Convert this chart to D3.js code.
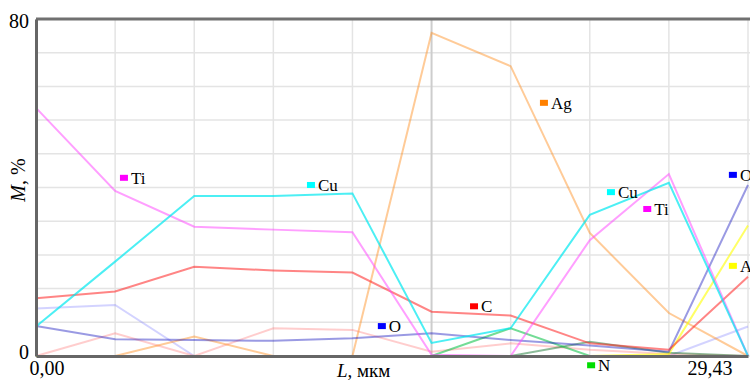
<!DOCTYPE html>
<html>
<head>
<meta charset="utf-8">
<script src="https://cdn.jsdelivr.net/npm/d3@7"></script>
<style>
  body { margin: 0; background: #fff; }
  svg { display: block; font-family: "Liberation Serif", "DejaVu Serif", serif; }
</style>
</head>
<body>
<script>
// точки по длине, мкм
var L = [0, 3.27, 6.54, 9.81, 13.08, 16.35, 19.62, 22.89, 26.16, 29.43];

// концентрации, %
var ti = [58.9, 39.2, 30.7, 30.0, 29.4, 0.3, 0, 27.5, 43.2, 0];
var cu = [7.0, 22.4, 38.0, 38.0, 38.6, 3.1, 6.6, 33.5, 41.1, 0];
var c  = [13.7, 15.3, 21.2, 20.3, 19.8, 10.5, 9.6, 3.0, 1.5, 18.8];
var o  = [7.1, 4.0, 3.8, 3.6, 4.2, 5.4, 3.8, 2.5, 1.0, 40.6];
var ag = [0, 0, 4.6, 0, 0, 76.7, 68.8, 29.2, 10.2, 0];
var n  = [0, 0, 0, 0, 0, 0, 6.6, 0, 0, 0];
var al = [0, 0, 0, 0, 0, 0, 0, 0, 0.5, 31.0];
var si = [11.3, 12.1, 0, 0, 0, 0, 0, 0, 0, 7.0];
var fe = [0, 5.4, 0, 6.6, 6.2, 1.0, 3.0, 1.5, 0.5, 0];
var dk = [0, 0, 0, 0, 0, 0, 0, 3.4, 0.8, 0];

var series = [
  {v: si, col: "#8080ff", op: 0.35},
  {v: fe, col: "#ff7070", op: 0.35},
  {v: dk, col: "#006a20", op: 0.45},
  {v: ag, col: "#ff8c1a", op: 0.45},
  {v: n,  col: "#00c040", op: 0.55},
  {v: al, col: "#ffff00", op: 0.6},
  {v: o,  col: "#2020c0", op: 0.45},
  {v: c,  col: "#ff2020", op: 0.55},
  {v: ti, col: "#ff40ff", op: 0.5},
  {v: cu, col: "#00e8f0", op: 0.7}
];

// подписи на графике
var labNames = ["Ti", "Cu", "Ag", "C", "O", "N", "Cu", "Ti", "O", "Al"];
var labL = [3.47, 11.2, 20.83, 17.94, 14.13, 22.78, 23.6, 25.1, 28.64, 28.64];
var labM = [42.3, 40.6, 60.1, 11.8, 7.1, -2.2, 38.9, 34.9, 43.0, 21.4];
var labCol = ["#ff00ff", "#00ffff", "#ff8000", "#ff0000", "#0000ff", "#00dd00", "#00ffff", "#ff00ff", "#0000ff", "#ffff00"];

var yTicks = [0, 80];
var xTicks = [0, 29.43];

var W = 750, H = 380;
var x = d3.scaleLinear().domain([0, 29.43]).range([36, 748]);
var y = d3.scaleLinear().domain([0, 80]).range([356, 19]);

var svg = d3.select("body").append("svg")
    .attr("width", W)
    .attr("height", H);

// сетка
svg.append("g").selectAll("line")
    .data(d3.range(0, 81, 8))
    .enter().append("line")
    .attr("x1", x(0)).attr("x2", W)
    .attr("y1", function(d) { return y(d); })
    .attr("y2", function(d) { return y(d); })
    .style("stroke", "#e4e4e4")
    .style("stroke-width", 1.5);

svg.append("g").selectAll("line")
    .data(L)
    .enter().append("line")
    .attr("x1", function(d) { return x(d); })
    .attr("x2", function(d) { return x(d); })
    .attr("y1", y(80)).attr("y2", y(0))
    .style("stroke", function(d, i) { return i == 5 ? "#cdcdcd" : "#e4e4e4"; })
    .style("stroke-width", function(d, i) { return i == 5 ? 2 : 1.5; });

var line = d3.line()
    .x(function(d, i) { return x(L[i]); })
    .y(function(d) { return y(d); });

svg.append("g").selectAll("path")
    .data(series)
    .enter().append("path")
    .attr("d", function(d) { return line(d.v); })
    .style("fill", "none")
    .style("stroke", function(d) { return d.col; })
    .style("stroke-opacity", function(d) { return d.op; })
    .style("stroke-width", 2);

// рамка
svg.append("line")
    .attr("x1", x(0)).attr("x2", W)
    .attr("y1", y(80)).attr("y2", y(80))
    .style("stroke", "#707070").style("stroke-width", 3);

var yAxis = svg.append("g")
    .attr("transform", "translate(" + x(0) + ",0)")
    .call(d3.axisLeft(y).tickValues(yTicks).tickSize(0).tickPadding(7));
yAxis.select(".domain").style("stroke", "#666").style("stroke-width", 3);
yAxis.selectAll("text")
    .style("font-family", "Liberation Serif")
    .style("font-size", "20px")
    .style("fill", "#000")
    .attr("dy", function(d) { return d == 0 ? "0.1em" : "0.4em"; });

var xAxis = svg.append("g")
    .attr("transform", "translate(0," + y(0) + ")")
    .call(d3.axisBottom(x).tickValues(xTicks).tickSize(0).tickPadding(5)
      .tickFormat(function(d) { return d.toFixed(2).replace(".", ","); }));
xAxis.select(".domain").style("stroke", "#666").style("stroke-width", 3);
xAxis.selectAll("text")
    .style("font-family", "Liberation Serif")
    .style("font-size", "20px")
    .style("fill", "#000")
    .attr("text-anchor", function(d) { return d == 0 ? "start" : "end"; })
    .attr("x", function(d) { return d == 0 ? -7 : -16; });

// подписи осей
var xl = svg.append("text")
    .attr("x", 337).attr("y", 377)
    .style("font-size", "19px");
xl.append("tspan").style("font-style", "italic").text("L");
xl.append("tspan").text(", мкм");

var yl = svg.append("text")
    .attr("transform", "translate(25,180) rotate(-90)")
    .attr("text-anchor", "middle")
    .style("font-size", "20px");
yl.append("tspan").style("font-style", "italic").text("M");
yl.append("tspan").text(", %");

// метки элементов
var lab = svg.append("g").selectAll("g")
    .data(labNames)
    .enter().append("g")
    .attr("transform", function(d, i) { return "translate(" + x(labL[i]) + "," + y(labM[i]) + ")"; });
lab.append("rect")
    .attr("x", 0).attr("y", -3)
    .attr("width", 8).attr("height", 6)
    .style("fill", function(d, i) { return labCol[i]; });
lab.append("text")
    .attr("x", 11).attr("dy", "0.35em")
    .style("font-size", "17px")
    .text(function(d) { return d; });
</script>
</body>
</html>
